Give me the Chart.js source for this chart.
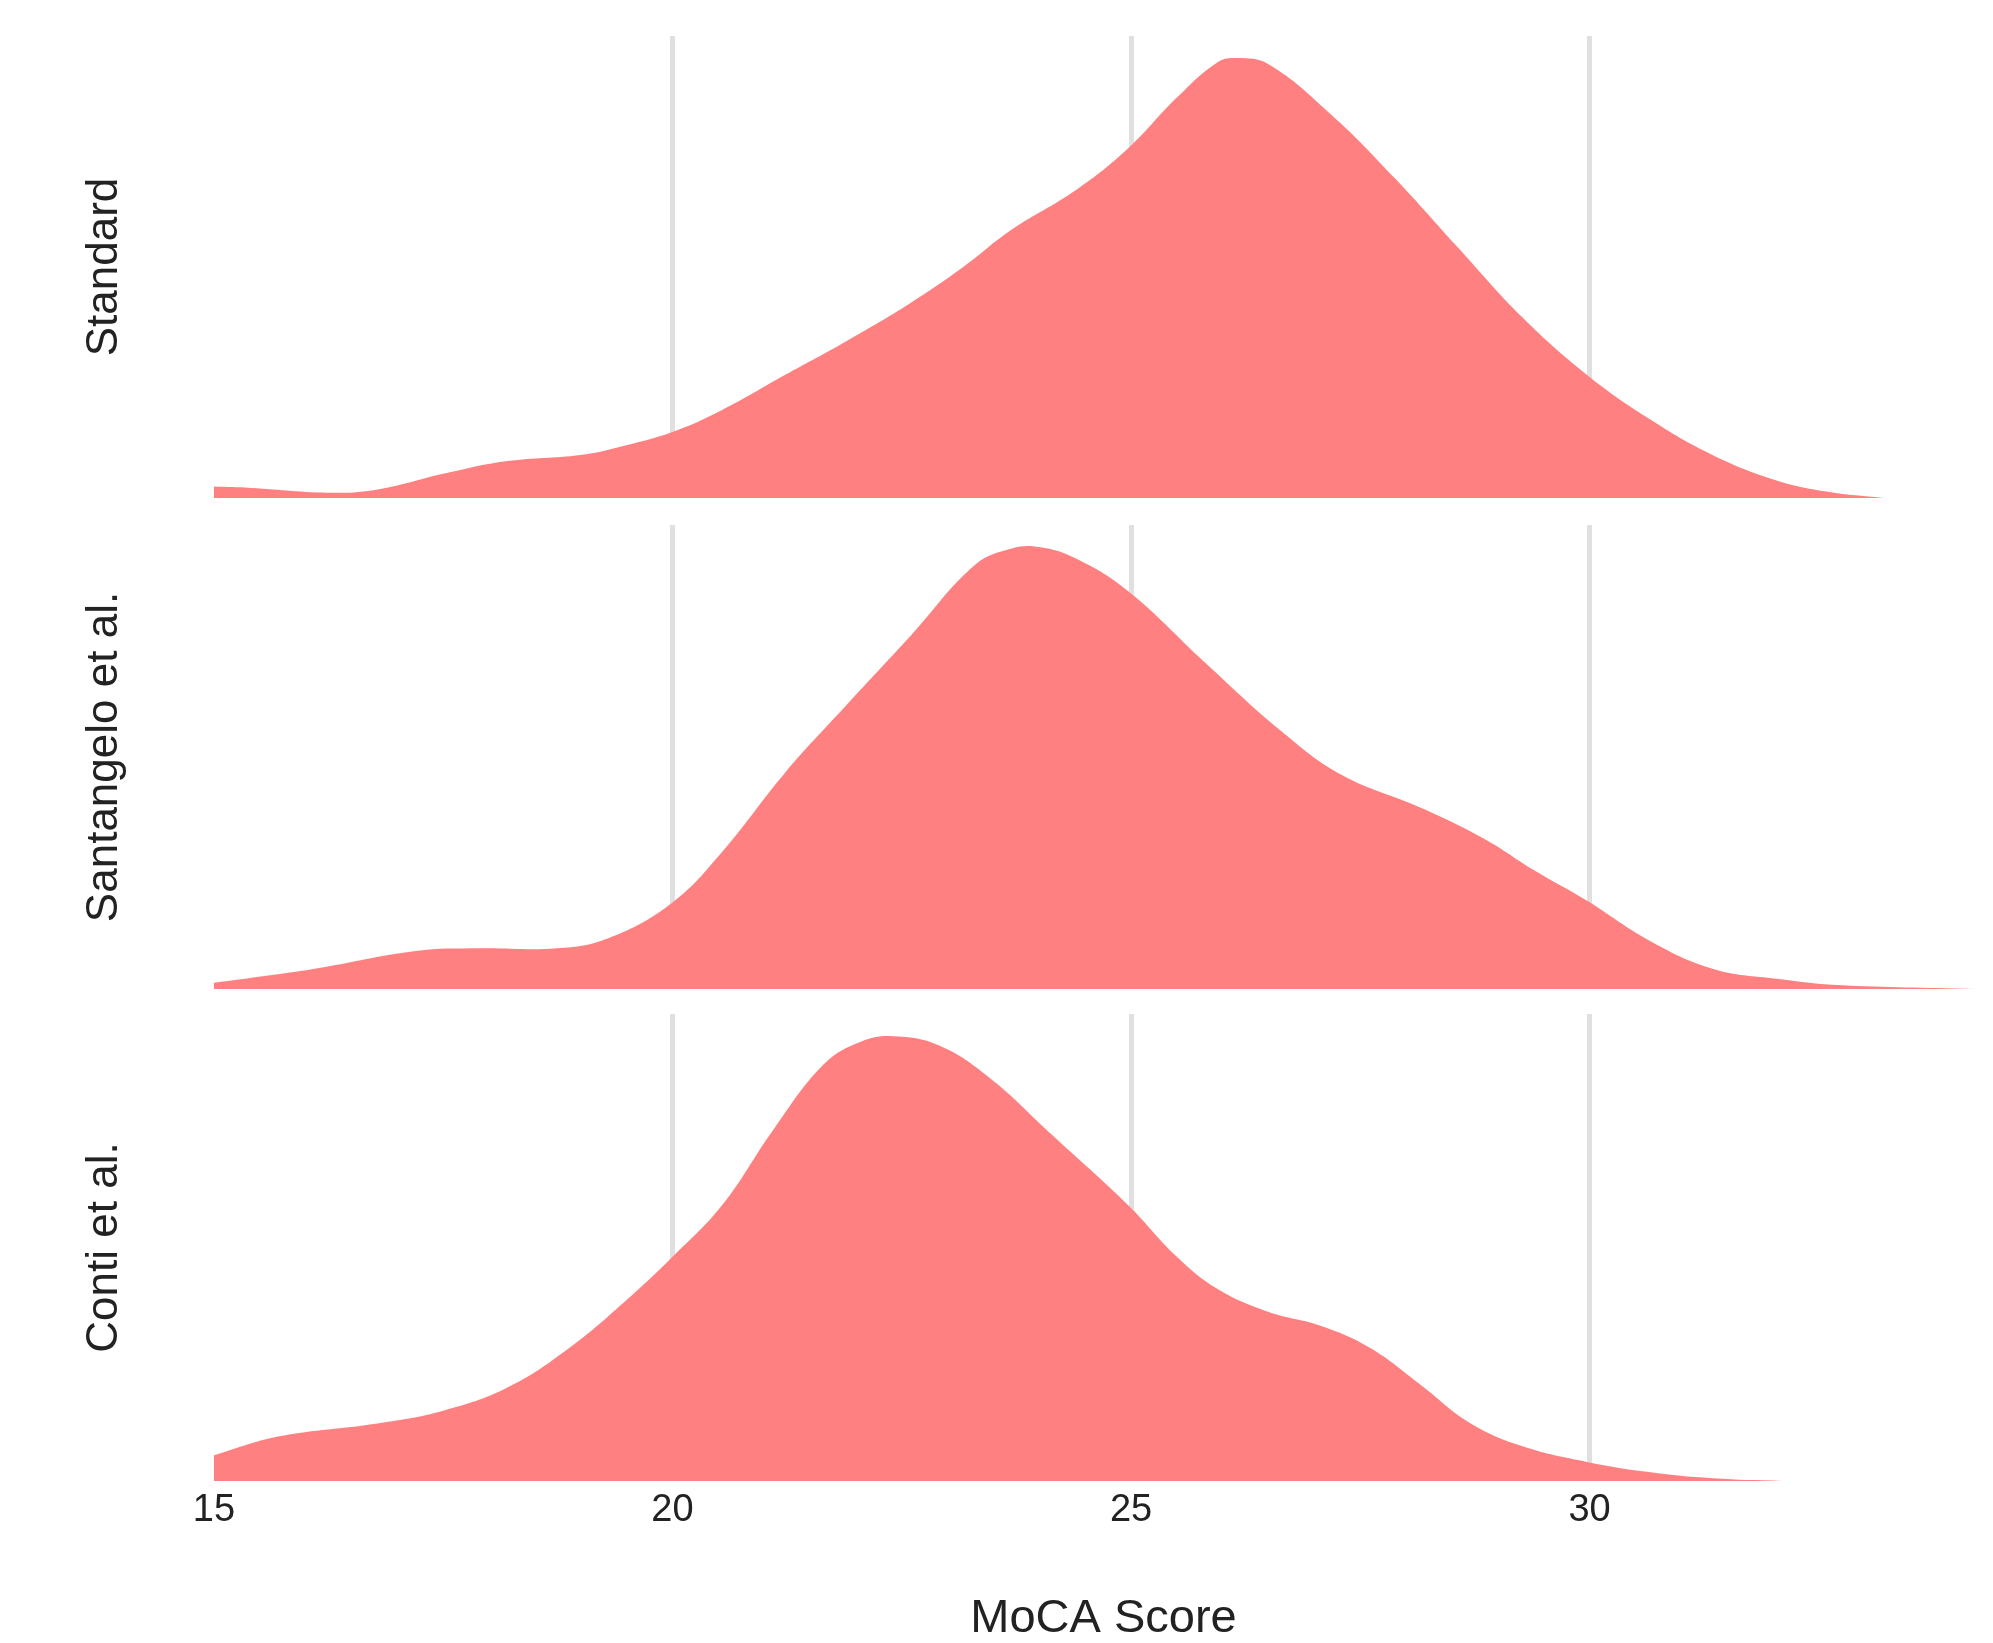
<!DOCTYPE html>
<html>
<head>
<meta charset="utf-8">
<script src="https://cdn.jsdelivr.net/npm/chart.js@4/dist/chart.umd.min.js"></script>
<style>
  html, body { margin: 0; padding: 0; background: #fff; overflow: hidden; }
  #wrap { position: relative; width: 1993px; height: 1643px; }
  #wrap canvas { position: absolute; left: 0; top: 0; }
</style>
</head>
<body>
<div id="wrap">
  <canvas id="c0" width="1993" height="1643"></canvas>
  <canvas id="c1" width="1993" height="1643"></canvas>
  <canvas id="c2" width="1993" height="1643"></canvas>
</div>
<script>
// density curves, scaled so each peak = 1
const panelNames = ['Standard', 'Santangelo et al.', 'Conti et al.'];
const xTicks = [15, 20, 25, 30];

const standardX = [15, 15.4, 16.3, 16.8, 17.5, 18.2, 19.0, 19.4, 20.0, 20.54, 21.23, 21.9, 22.6, 23.17, 23.7, 24.4, 24.97, 25.5, 25.94, 26.15, 26.5, 27.19, 27.88, 28.57, 29.27, 29.97, 30.65, 31.34, 32.04, 32.6, 33.2];
const standardY = [0.026, 0.023, 0.012, 0.02, 0.055, 0.084, 0.098, 0.115, 0.15, 0.2, 0.28, 0.357, 0.444, 0.525, 0.61, 0.7, 0.795, 0.91, 0.99, 1.0, 0.986, 0.87, 0.726, 0.568, 0.41, 0.28, 0.18, 0.098, 0.04, 0.014, 0.0];

const santangeloX = [15, 16.1, 17.2, 17.9, 18.74, 19.3, 20.0, 20.54, 21.23, 21.9, 22.6, 23.3, 23.7, 24.0, 24.4, 24.97, 25.8, 26.63, 27.3, 28.16, 28.85, 29.4, 29.97, 30.65, 31.34, 32.04, 32.7, 34.2];
const santangeloY = [0.014, 0.046, 0.086, 0.092, 0.092, 0.115, 0.196, 0.31, 0.49, 0.643, 0.8, 0.96, 0.997, 1.0, 0.974, 0.9, 0.74, 0.585, 0.484, 0.41, 0.34, 0.268, 0.2, 0.11, 0.046, 0.023, 0.009, 0.0];

const contiX = [15, 15.7, 16.8, 17.5, 18.2, 18.88, 19.57, 20.0, 20.54, 21.1, 21.65, 22.06, 22.4, 22.9, 23.45, 24.14, 24.97, 25.5, 25.94, 26.5, 27.05, 27.6, 28.16, 28.7, 29.27, 29.97, 30.65, 31.34, 32.1];
const contiY = [0.058, 0.1, 0.13, 0.158, 0.21, 0.3, 0.42, 0.504, 0.62, 0.79, 0.937, 0.988, 1.0, 0.98, 0.908, 0.778, 0.62, 0.504, 0.432, 0.38, 0.35, 0.3, 0.216, 0.13, 0.078, 0.043, 0.02, 0.006, 0.0];

const seriesX = [standardX, santangeloX, contiX];
const seriesY = [standardY, santangeloY, contiY];

const FILL = 'rgb(255,128,128)';
const GRID = '#e0e0e0';
const FONT = "'Liberation Sans', Arial, sans-serif";

// panel tops / bottoms on the page
const panelTop = [36, 525, 1014];
const panelBottom = [498, 989, 1481];
const PAGE_H = 1643;

panelNames.forEach((name, i) => {
    const last = i === panelNames.length - 1;
    const ctx = document.getElementById('c' + i).getContext('2d');
    const pts = seriesX[i].map((x, k) => ({ x, y: seriesY[i][k] }));

    new Chart(ctx, {
        type: 'line',
        data: {
            datasets: [{
                label: name,
                data: pts,
                borderWidth: 0,
                borderColor: FILL,
                backgroundColor: FILL,
                fill: 'origin',
                pointRadius: 0,
                tension: 0.4
            }]
        },
        options: {
            responsive: false,
            animation: false,
            events: [],
            layout: {
                padding: {
                    left: 83, right: 0, top: panelTop[i],
                    bottom: last ? 0 : PAGE_H - panelBottom[i]
                }
            },
            scales: {
                x: {
                    type: 'linear',
                    min: 15, max: 34.4,
                    afterBuildTicks: s => { s.ticks = xTicks.map(v => ({ value: v })); },
                    afterFit: s => { s.height = last ? PAGE_H - panelBottom[i] : 0; },
                    border: { display: false },
                    grid: {
                        drawTicks: false,
                        lineWidth: 5,
                        color: c => (c.tick && c.tick.value === 15) ? 'rgba(0,0,0,0)' : GRID
                    },
                    ticks: {
                        display: last,
                        padding: 7,
                        color: '#222',
                        font: { family: FONT, size: 38 }
                    },
                    title: {
                        display: last,
                        text: 'MoCA Score',
                        color: '#222',
                        padding: 0,
                        font: { family: FONT, size: 47, lineHeight: 1 }
                    }
                },
                y: {
                    min: 0, max: 1.05,
                    afterFit: s => { s.width = 131; },
                    border: { display: false },
                    grid: { display: false, drawTicks: false },
                    ticks: { display: false },
                    title: {
                        display: true,
                        text: name,
                        color: '#222',
                        padding: 0,
                        font: { family: FONT, size: 44, lineHeight: 1 }
                    }
                }
            },
            plugins: {
                legend: { display: false },
                tooltip: { enabled: false }
            }
        }
    });
});
</script>
</body>
</html>
